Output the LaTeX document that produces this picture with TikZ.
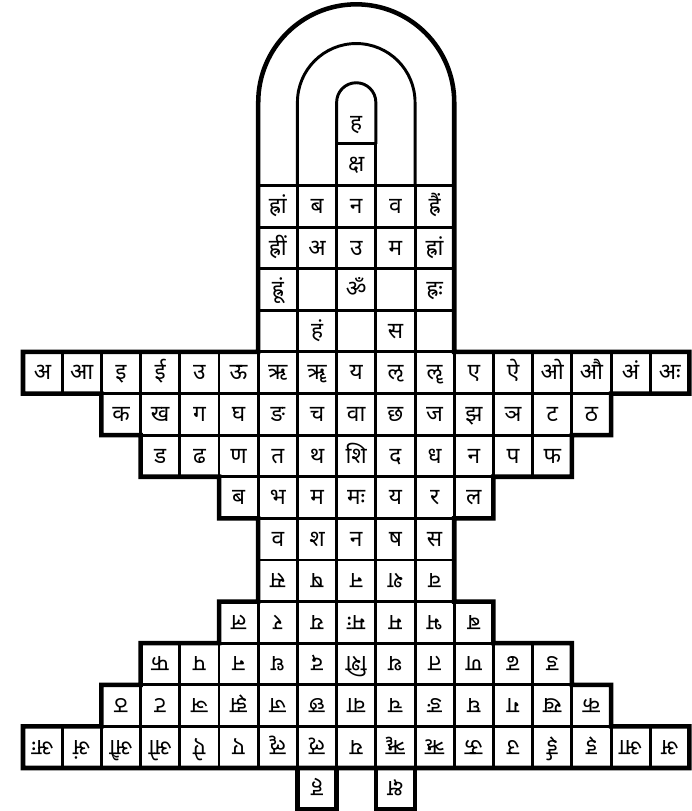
\documentclass[tikz,border=0pt]{standalone}
\usepackage{fontspec}
\newfontfamily\deva[Script=Devanagari]{Noto Sans}
\usetikzlibrary{positioning}

% one row of the upper half, with its copy turned round below the middle line
\newcommand\glyphrow[3]{%
  \foreach \g [count=\k from #2] in {#3} {
    \pgfmathtruncatemacro\mc{16-\k}
    \pgfmathtruncatemacro\mr{-1-#1}
    \node[cell] (t#1-\k) at (\k+0.5,#1+0.5) {\g};
    \node[cell,rotate=180] (b#1-\mc) at (\mc+0.5,\mr+0.5) {\g};
  }}
% one row of the upper block only
\newcommand\plainrow[3]{%
  \foreach \g [count=\k from #2] in {#3} {
    \node[cell] (t#1-\k) at (\k+0.5,#1+0.5) {\g};
  }}

\begin{document}
\begin{tikzpicture}[x=29.4pt,y=31.2pt,font=\deva\fontsize{17pt}{20pt}\selectfont,
  cell/.style={draw,line width=2.2pt,minimum width=29.4pt,minimum height=31.2pt,inner sep=0pt,text height=20pt,text depth=9.4pt},
  edge/.style={line width=3.4pt,line join=miter},
  arch/.style={line width=2.2pt}]
\useasboundingbox (-0.587,-6.034) rectangle (17.04,13.46);
\fill[white] (-0.587,-6.034) rectangle (17.04,13.46);

\glyphrow{0}{6}{व,श,न,ष,स}
\glyphrow{1}{5}{ब,भ,म,मः,य,र,ल}
\glyphrow{2}{3}{ड,ढ,ण,त,थ,शि,द,ध,न,प,फ}
\glyphrow{3}{2}{क,ख,ग,घ,ङ,च,वा,छ,ज,झ,ञ,ट,ठ}
\glyphrow{4}{0}{अ,आ,इ,ई,उ,ऊ,ऋ,ॠ,य,ऌ,ॡ,ए,ऐ,ओ,औ,अं,अः}

\plainrow{5}{6}{{},हं,{},स,{}}
\plainrow{6}{6}{ह्रूं,{},ॐ,{},ह्रः}
\plainrow{7}{6}{ह्रीं,अ,उ,म,ह्रां}
\plainrow{8}{6}{ह्रां,ब,न,व,ह्रैं}
\node[cell] (ksha) at (8.5,9.5) {क्ष};
\node[cell,draw=none] (ha) at (8.5,10.5) {ह};

% the two cells under the lowest row
\node[cell,rotate=180] (bot-ha) at (7.5,-5.5) {ह};
\node[cell,rotate=180] (bot-ksha) at (9.5,-5.5) {क्ष};

% arches
\draw[arch] (8,10) -- (8,11) arc[start angle=180,end angle=0,radius=14.7pt] -- (9,10);
\draw[arch] (7,9) -- (7,11) arc[start angle=180,end angle=0,radius=44.1pt] -- (10,9);

% thick outline
\draw[edge] (6,11) -- (6,5) -- (0,5) -- (0,4) -- (2,4) -- (2,3) -- (3,3) -- (3,2) -- (5,2) -- (5,1) -- (6,1)
  -- (6,-1) -- (5,-1) -- (5,-2) -- (3,-2) -- (3,-3) -- (2,-3) -- (2,-4) -- (0,-4) -- (0,-5) -- (17,-5)
  -- (17,-4) -- (15,-4) -- (15,-3) -- (14,-3) -- (14,-2) -- (12,-2) -- (12,-1) -- (11,-1) -- (11,1) -- (12,1)
  -- (12,2) -- (14,2) -- (14,3) -- (15,3) -- (15,4) -- (17,4) -- (17,5) -- (11,5) -- (11,11)
  arc[start angle=0,end angle=180,radius=73.5pt] -- cycle;
\draw[edge] (7,-6) rectangle (8,-5);
\draw[edge] (9,-6) rectangle (10,-5);
\end{tikzpicture}
\end{document}
